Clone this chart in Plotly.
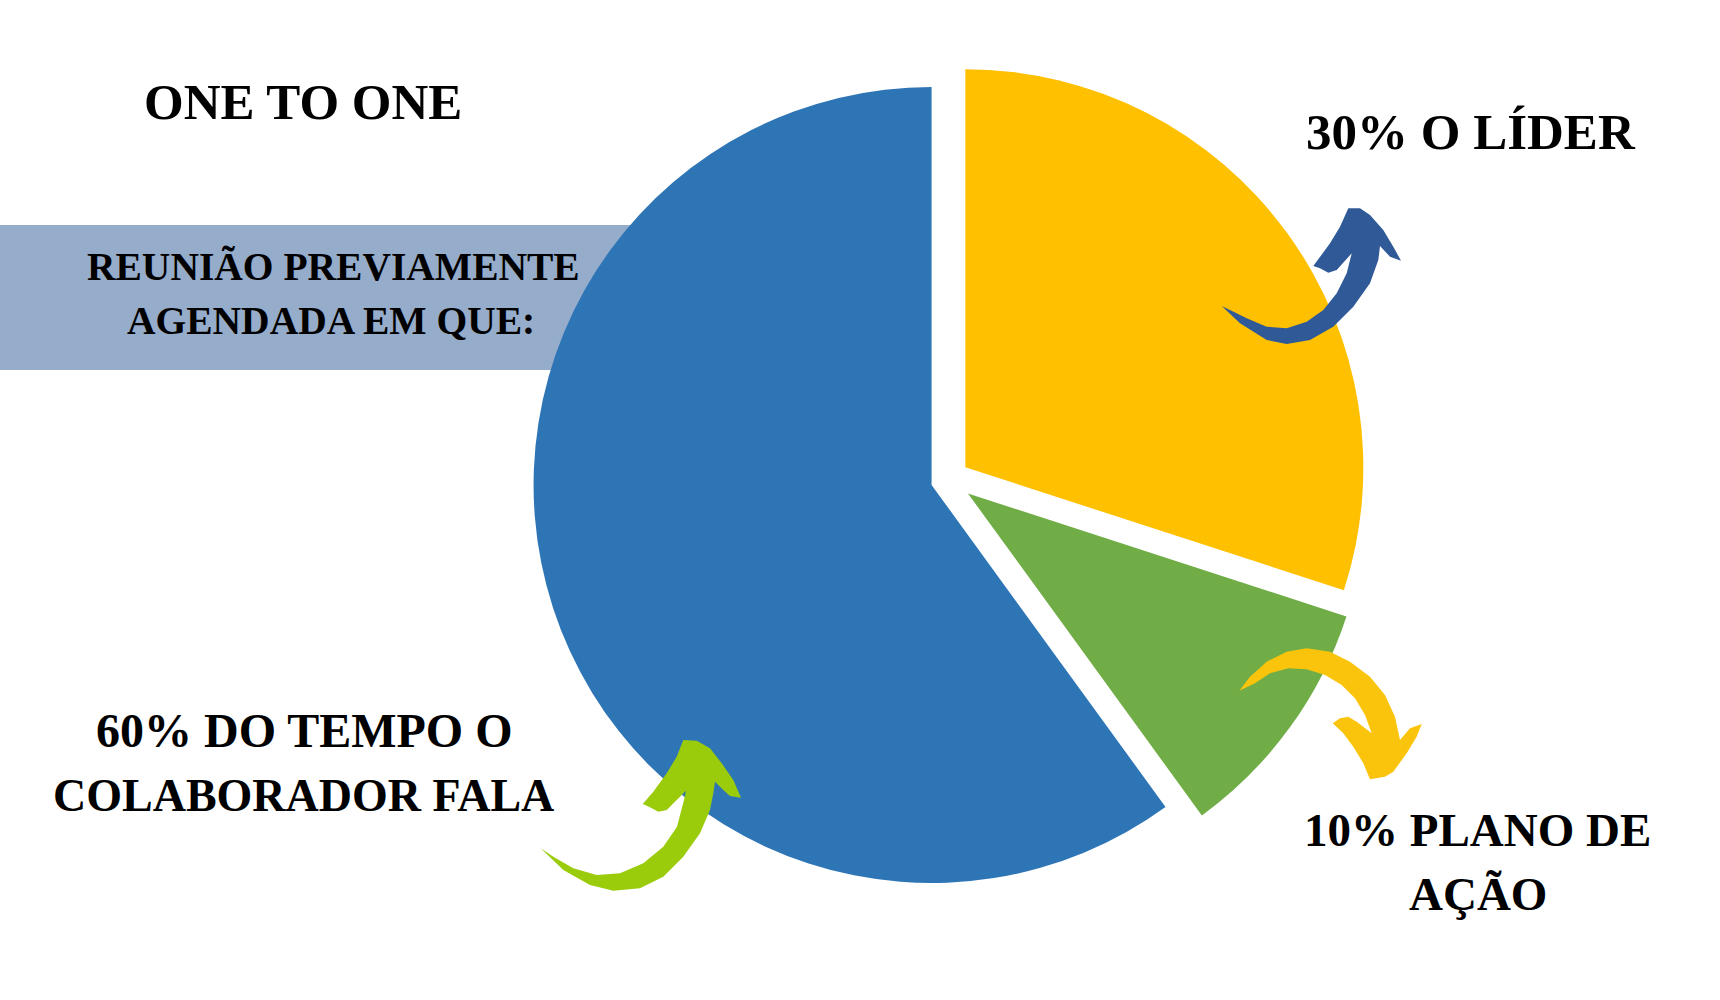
import plotly.graph_objects as go

# ---------------- data ----------------
slice_labels = ["30% O LÍDER", "10% PLANO DE AÇÃO", "60% DO TEMPO O COLABORADOR FALA"]
slice_values = [30, 10, 60]
slice_colors = ["#FFC000", "#70AD47", "#2E75B6"]
slice_pull = [0.052, 0.060, 0.045]

title_text = "ONE TO ONE"
banner_lines = ["REUNIÃO PREVIAMENTE", "AGENDADA EM QUE:"]
label_leader = ["30% O LÍDER"]
label_plan = ["10% PLANO DE", "AÇÃO"]
label_collab = ["60% DO TEMPO O", "COLABORADOR FALA"]

W, H = 1720, 1000
FONT = "Liberation Serif"


def px(x):
    return x / W


def py(y):
    return 1 - y / H


def path_from(points):
    pts = [f"{px(x):.5f},{py(y):.5f}" for x, y in points]
    return "M " + " L ".join(pts) + " Z"


# decorative curved arrows (pixel outlines)
blue_arrow = [
    (1221.7, 306), (1240, 323.3), (1266.7, 340), (1286.7, 344), (1310, 340),
    (1333.3, 326.7), (1353.3, 306.7), (1370, 283.3), (1378.3, 260), (1380, 246),
    (1390, 256.7), (1401, 260.7), (1393.3, 246.7), (1383.3, 230), (1370, 215),
    (1360, 208.3), (1348.3, 208.3), (1340, 226.7), (1330, 243.3), (1313.3, 266),
    (1320, 268.3), (1328.3, 272.7), (1336.7, 270), (1351.7, 253.3), (1346.7, 273.3),
    (1336.7, 293.3), (1323.3, 310), (1306.7, 321.7), (1286.7, 328.3), (1266.7, 326.7),
    (1246.7, 318.3), (1230, 310),
]
yellow_arrow = [
    (1239.3, 690.7), (1250, 676.7), (1266.7, 661.7), (1286.7, 651.7), (1306.7, 648.3),
    (1330, 651.7), (1350, 661.7), (1370, 676.7), (1385, 695), (1395, 716.7),
    (1400, 740), (1410, 728.3), (1421.7, 724), (1416.7, 736.7), (1406.7, 753.3),
    (1393.3, 771.7), (1385, 776.7), (1370, 779.3), (1363.3, 763.3), (1353.3, 746.7),
    (1343.3, 733.3), (1332.7, 723.3), (1340, 718.3), (1348.3, 716.7), (1356.7, 721.7),
    (1371.7, 733.3), (1365, 715), (1355, 698.3), (1341.7, 685), (1325, 675),
    (1306.7, 669.3), (1288.3, 668.3), (1270, 673.3), (1255, 683.3),
]
green_arrow = [
    (540.7, 848.3), (563.3, 870), (590, 885), (613.3, 890.7), (640, 888.3),
    (663.3, 876.7), (683.3, 856.7), (700, 833.3), (710, 810),
    (713.3, 793.3), (715, 781.7), (723.3, 790), (730, 796), (741, 797.7),
    (733.3, 780), (721.7, 763.3), (710, 748.3), (696.7, 740.7), (683.3, 740),
    (676.7, 756.7), (666.7, 773.3), (653.3, 791.7), (642.7, 804), (650, 807.3),
    (658.3, 811.7), (666.7, 810), (676.7, 800), (686, 790.7), (684, 800),
    (677, 826.7), (663.3, 846.7), (643.3, 863.3), (620, 873.3), (596.7, 875),
    (573.3, 868.3), (553.3, 856.7),
]

# pie geometry: center (948.6, 479.4), radius ~398 px
cx, cy, r = 948.6, 479.4, 398.0
box = r * (2 + 2 * max(slice_pull))
dom_x = [(cx - box / 2) / W, (cx + box / 2) / W]
dom_y = [1 - (cy + box / 2) / H, 1 - (cy - box / 2) / H]

fig = go.Figure(
    go.Pie(
        labels=slice_labels,
        values=slice_values,
        marker=dict(colors=slice_colors, line=dict(width=0)),
        pull=slice_pull,
        sort=False,
        direction="clockwise",
        rotation=0,
        textinfo="none",
        hoverinfo="label+percent",
        showlegend=False,
        domain=dict(x=dom_x, y=dom_y),
    )
)

shapes = [
    dict(type="rect", xref="paper", yref="paper", x0=0, x1=px(700), y0=py(370), y1=py(225),
         fillcolor="#96ACCB", line=dict(width=0), layer="below"),
    dict(type="path", xref="paper", yref="paper", path=path_from(blue_arrow),
         fillcolor="#2F5A97", line=dict(width=0), layer="above"),
    dict(type="path", xref="paper", yref="paper", path=path_from(yellow_arrow),
         fillcolor="#FBC40C", line=dict(width=0), layer="above"),
    dict(type="path", xref="paper", yref="paper", path=path_from(green_arrow),
         fillcolor="#9ACC0C", line=dict(width=0), layer="above"),
]


def ann(text, x, y, size):
    return dict(text=text, x=px(x), y=py(y), xref="paper", yref="paper",
                xanchor="center", yanchor="middle", showarrow=False,
                font=dict(family=FONT, size=size, color="#000000", weight="bold"))


annotations = [
    ann(title_text, 303, 102, 51),
    ann(banner_lines[0], 333, 267, 39.5),
    ann(banner_lines[1], 331, 321, 39.5),
    ann(label_leader[0], 1471, 132, 51),
    ann(label_plan[0], 1477, 830, 47),
    ann(label_plan[1], 1478, 894, 47),
    ann(label_collab[0], 304, 730, 48),
    ann(label_collab[1], 303, 795, 46),
]

fig.update_layout(
    width=W, height=H,
    margin=dict(l=0, r=0, t=0, b=0),
    paper_bgcolor="#FFFFFF",
    plot_bgcolor="#FFFFFF",
    shapes=shapes,
    annotations=annotations,
)

fig.write_html(
    "out.html",
    config={"displayModeBar": False},
    post_script="document.body.style.margin='0';document.body.style.overflow='hidden';",
)
